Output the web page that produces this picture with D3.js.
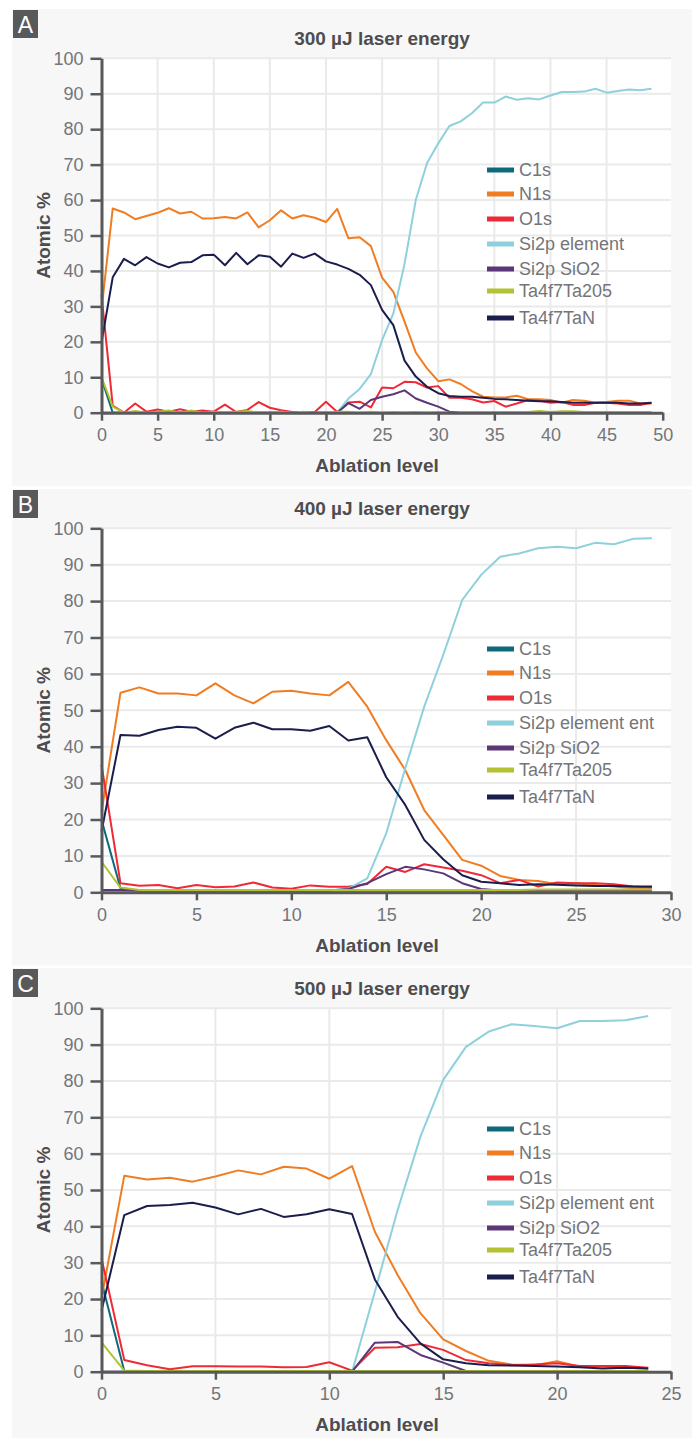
<!DOCTYPE html>
<html><head><meta charset="utf-8">
<script src="https://cdn.jsdelivr.net/npm/d3@7"></script>
<style>
body{margin:0;background:#fff}
svg{display:block}
text{font-family:"Liberation Sans",Arial,sans-serif}
</style>
</head><body>
<svg id="chart" width="696" height="1438"></svg>
<script>
// ---------- data ----------
const seriesNames = ["C1s","N1s","O1s","Si2p element","Si2p SiO2","Ta4f7Ta205","Ta4f7TaN"];
const seriesNamesBC = ["C1s","N1s","O1s","Si2p element ent","Si2p SiO2","Ta4f7Ta205","Ta4f7TaN"];
const colors = ["#0e6a7b","#f07d22","#ee2a36","#8ed0dc","#5b3679","#b3c232","#1b1d4d"];
const yTicks = [0,10,20,30,40,50,60,70,80,90,100];
const titles = ["300 µJ laser energy","400 µJ laser energy","500 µJ laser energy"];
const panelLetters = ["A","B","C"];
const xTicksA = [0,5,10,15,20,25,30,35,40,45,50];
const xTicksB = [0,5,10,15,20,25,30];
const xTicksC = [0,5,10,15,20,25];

// Panel A (ablation level 0..49)
const A_C1s = [9.7,0,0,0,0,0,0,0,0,0, 0,0,0,0,0,0,0,0,0,0, 0,0,0,0,0,0,0,0,0,0, 0,0,0,0,0,0,0,0,0,0, 0,0,0,0,0,0,0,0,0,0];
const A_N1s = [29,57.6,56.5,54.6,55.5,56.4,57.7,56.2,56.7,54.8, 54.9,55.2,54.8,56.5,52.3,54.3,57.1,54.8,55.7,55.0, 53.8,57.5,49.2,49.5,47.0,38.1,34.1,25.7,17.0,12.5, 8.9,9.4,8.1,6.1,4.5,4.3,4.3,4.8,3.8,3.8, 3.6,2.8,3.6,3.4,2.8,3.0,3.4,3.4,2.6,2.6];
const A_O1s = [33.3,2.0,0,2.6,0.3,0.9,0.3,1.0,0.3,0.6, 0.3,2.3,0.2,0.8,3.0,1.4,0.7,0.2,0.2,0.2, 3.1,0.2,2.9,3.1,1.5,7.1,6.9,8.7,8.6,7.1, 7.5,4.2,4.2,3.8,2.9,3.3,1.7,2.6,3.6,3.4, 2.8,3.0,2.2,2.2,2.8,2.8,2.6,2.2,2.2,2.8];
const A_Si = [0,0,0,0,0,0,0,0,0,0, 0,0,0,0,0,0,0,0,0,0, 0,0,4.0,6.7,10.9,20.5,28.0,42.0,60.0,70.4, 76.0,80.9,82.2,84.5,87.5,87.5,89.2,88.3,88.7,88.4, 89.5,90.5,90.5,90.6,91.4,90.3,90.8,91.2,91.0,91.4];
const A_SiO2 = [0,0,0,0,0,0,0,0,0,0, 0,0,0,0,0,0,0,0,0,0, 0,0,2.7,1.1,3.6,4.5,5.2,6.3,4.0,2.8, 1.7,0.3,0,0,0,0,0,0,0,0, 0,0,0,0,0,0,0,0,0,0];
const A_Ta205 = [10,1.7,0,0.5,0,0.3,0.6,0,0.6,0, 0.3,0,0.3,0.5,0,0,0.3,0,0.3,0, 0,0.3,0.3,0,0.3,0,0.2,0,0.2,0, 0.2,0,0,0,0,0,0,0,0.2,0.5, 0.2,0.4,0.4,0.2,0,0,0,0,0,0];
const A_TaN = [19.8,38.2,43.4,41.6,43.9,42.1,41.0,42.3,42.5,44.4, 44.6,41.6,45.1,41.9,44.4,44.0,41.2,44.9,43.7,44.9, 42.7,41.8,40.6,38.9,36.0,29.0,24.7,14.7,10.2,7.3, 5.5,4.7,4.5,4.5,4.2,3.9,3.8,3.6,3.4,3.2, 3.2,3.0,2.8,2.8,2.8,2.8,2.8,2.6,2.6,2.8];

// Panel B (ablation level 0..29)
const B_C1s = [19.9,1.1,0.5,0.5,0.5,0.5,0.5,0.5,0.5,0.5, 0.5,0.5,0.5,0.5,0.5,0.5,0.5,0.5,0.5,0.5, 0.5,0.5,0.5,0.5,0.5,0.5,0.5,0.5,0.5,0.5];
const B_N1s = [22,54.8,56.3,54.6,54.6,54.1,57.4,54.1,51.9,55.1, 55.4,54.6,54.1,57.8,51.0,41.8,33.6,22.6,15.8,8.9, 7.3,4.5,3.4,3.1,2.2,2.5,2.0,1.6,1.1,1.1];
const B_O1s = [35.0,2.5,1.8,2.0,1.1,2.0,1.4,1.6,2.7,1.3, 1.0,1.9,1.5,1.5,2.3,7.0,5.6,7.7,6.8,5.9, 4.7,2.5,3.4,1.6,2.7,2.5,2.5,2.2,1.6,1.3];
const B_Si = [0.5,0.5,0.5,0.5,0.5,0.5,0.5,0.5,0.5,0.5, 0.5,0.5,0.5,1.0,3.8,16.2,34.0,51.0,65.2,80.3, 87.2,92.2,93.1,94.5,94.9,94.5,96.0,95.6,97.1,97.3];
const B_SiO2 = [0.6,0.6,0.5,0.5,0.5,0.5,0.5,0.5,0.5,0.5, 0.5,0.5,0.5,0.9,2.5,5.0,7.0,6.3,5.2,2.5, 0.9,0.5,0.5,0.5,0.5,0.5,0.5,0.5,0.5,0.5];
const B_Ta205 = [8.4,1.3,0.6,0.6,0.6,0.6,0.6,0.6,0.6,0.6, 0.6,0.6,0.6,0.6,0.6,0.6,0.6,0.6,0.6,0.6, 0.6,0.6,0.6,0.8,0.8,0.8,0.8,0.8,0.8,0.8];
const B_TaN = [16.7,43.2,43.0,44.6,45.5,45.2,42.2,45.2,46.6,44.8, 44.8,44.4,45.7,41.7,42.6,31.6,24.0,14.4,9.1,4.7, 2.9,2.5,2.0,2.2,2.1,1.9,1.7,1.7,1.6,1.6];

// Panel C (ablation level 0..24)
const C_C1s = [24.8,0.2,0,0,0,0,0,0,0,0, 0,0,0,0,0,0,0,0,0,0, 0,0,0,0,0];
const C_N1s = [20.2,53.9,52.9,53.4,52.3,53.7,55.4,54.3,56.4,55.9, 53.1,56.6,38.5,26.6,16.1,8.9,5.7,3.0,2.0,1.8, 2.9,1.4,1.4,1.1,0.9];
const C_O1s = [31.2,3.2,1.8,0.7,1.5,1.5,1.4,1.4,1.2,1.3, 2.6,0.3,6.6,6.7,7.6,6.0,3.2,2.3,1.8,2.0, 2.3,1.6,1.6,1.6,1.1];
const C_Si = [0,0,0,0,0,0,0,0,0,0, 0,0,22.0,44.5,64.7,80.3,89.4,93.6,95.6,95.1, 94.5,96.5,96.5,96.7,97.9];
const C_SiO2 = [0,0,0,0,0,0,0,0,0,0, 0,0,8.0,8.2,4.6,2.5,0.2,0,0,0, 0,0,0,0,0];
const C_Ta205 = [8.1,0.3,0.2,0.2,0.2,0.2,0.2,0.2,0.2,0.2, 0.2,0.2,0.2,0.2,0.2,0.2,0.2,0.2,0.2,0.2, 0.2,0.2,0.2,0.2,0.2];
const C_TaN = [16.8,43.1,45.6,45.9,46.5,45.2,43.3,44.8,42.6,43.3, 44.7,43.4,25.4,15.1,7.8,3.4,2.3,1.8,1.7,1.6, 1.4,1.2,0.9,1.1,0.9];

// ---------- layout ----------
const panels = [
  {letter:panelLetters[0], title:titles[0], names:seriesNames, xMax:50, xTicks:xTicksA, gridX:[5,10,15,20,25,30,35,40,45],
   bgTop:9, bgBot:486, x0:101.5, x1:662.7, yTop:58.3, yBot:412.7, legTop:170,
   series:[A_C1s,A_N1s,A_O1s,A_Si,A_SiO2,A_Ta205,A_TaN]},
  {letter:panelLetters[1], title:titles[1], names:seriesNamesBC, xMax:30, xTicks:xTicksB, gridX:[25],
   bgTop:489, bgBot:965.5, x0:101.5, x1:671, yTop:528.3, yBot:892.3, legTop:649,
   series:[B_C1s,B_N1s,B_O1s,B_Si,B_SiO2,B_Ta205,B_TaN]},
  {letter:panelLetters[2], title:titles[2], names:seriesNamesBC, xMax:25, xTicks:xTicksC, gridX:[5,10,15,20],
   bgTop:968, bgBot:1438, x0:101.5, x1:671, yTop:1008.3, yBot:1371.7, legTop:1129,
   series:[C_C1s,C_N1s,C_O1s,C_Si,C_SiO2,C_Ta205,C_TaN]}
];
const legOffsets = [0,24,49,74,99,121,148];
const svg = d3.select("#chart");
const axisColor = "#58595b";

panels.forEach(p => {
  const g = svg.append("g");
  g.append("rect").attr("x",12).attr("y",p.bgTop).attr("width",680).attr("height",p.bgBot-p.bgTop).attr("fill","#f7f7f7");
  g.append("rect").attr("x",13).attr("y",p.bgTop+1).attr("width",25).attr("height",28).attr("fill","#58595b");
  g.append("text").attr("x",25.5).attr("y",p.bgTop+15.5).attr("text-anchor","middle").attr("dominant-baseline","central")
    .attr("fill","#fff").attr("font-size",23).text(p.letter);

  const x = d3.scaleLinear().domain([0,p.xMax]).range([p.x0,p.x1]);
  const y = d3.scaleLinear().domain([0,100]).range([p.yBot,p.yTop]);

  g.append("rect").attr("x",101).attr("y",p.yTop).attr("width",570).attr("height",p.yBot-p.yTop).attr("fill","#fff");

  // grid
  g.append("g").selectAll("line").data(yTicks.slice(1)).join("line")
    .attr("x1",101).attr("x2",671).attr("y1",d=>y(d)).attr("y2",d=>y(d))
    .attr("stroke","#eaeaea").attr("stroke-width",2);
  g.append("g").selectAll("line").data(p.gridX).join("line")
    .attr("x1",d=>x(d)).attr("x2",d=>x(d)).attr("y1",p.yTop).attr("y2",p.yBot)
    .attr("stroke","#eaeaea").attr("stroke-width",2);

  // title & labels
  g.append("text").attr("x",382).attr("y",p.yTop-20).attr("text-anchor","middle").attr("dominant-baseline","central")
    .attr("font-size",19).attr("font-weight","bold").attr("fill","#4d4d4f").text(p.title);
  g.append("text").attr("transform",`translate(43,${(p.yTop+p.yBot)/2}) rotate(-90)`).attr("text-anchor","middle")
    .attr("dominant-baseline","central").attr("font-size",19).attr("font-weight","bold").attr("fill","#4d4d4f").text("Atomic %");
  g.append("text").attr("x",377).attr("y",p.yBot+53).attr("text-anchor","middle").attr("dominant-baseline","central")
    .attr("font-size",19).attr("font-weight","bold").attr("fill","#4d4d4f").text("Ablation level");

  // lines
  const line = d3.line().x((d,i)=>x(i)).y(d=>y(d));
  p.series.forEach((s,k) => {
    g.append("path").datum(s).attr("d",line).attr("fill","none").attr("stroke",colors[k])
      .attr("stroke-width",2).attr("stroke-linejoin","round");
  });

  // axes
  const ya = g.append("g").attr("transform",`translate(${p.x0},0)`)
    .call(d3.axisLeft(y).tickValues(yTicks).tickSize(11).tickSizeOuter(0).tickPadding(7));
  const xa = g.append("g").attr("transform",`translate(0,${p.yBot})`)
    .call(d3.axisBottom(x).tickValues(p.xTicks).tickSize(8).tickSizeOuter(0).tickPadding(8));
  [ya,xa].forEach(a => {
    a.select(".domain").attr("stroke",axisColor).attr("stroke-width",3);
    a.selectAll(".tick line").attr("stroke",axisColor).attr("stroke-width",2.5);
    a.selectAll(".tick text").attr("fill","#747578").attr("font-size",18).style("font-family","'Liberation Sans',Arial,sans-serif");
  });

  // legend
  const lg = g.append("g");
  p.names.forEach((n,k) => {
    const ly = p.legTop + legOffsets[k];
    lg.append("rect").attr("x",487).attr("y",ly-2.5).attr("width",27).attr("height",5).attr("fill",colors[k]);
    lg.append("text").attr("x",519).attr("y",ly).attr("dominant-baseline","central").attr("font-size",18)
      .attr("fill","#747578").text(n);
  });
});
</script>
</body></html>
